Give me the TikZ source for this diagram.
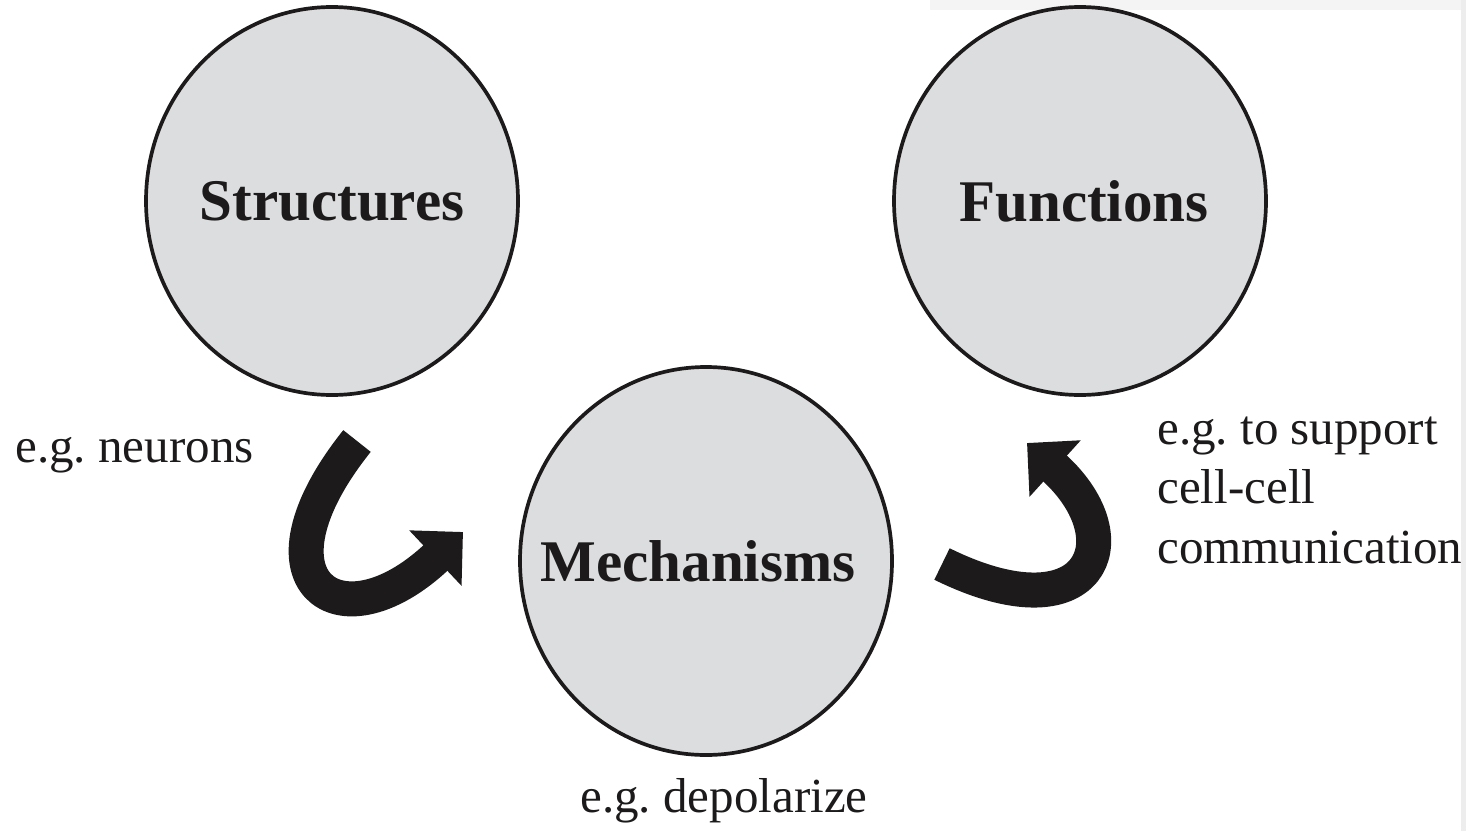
\documentclass[tikz,border=0pt]{standalone}
\usepackage{fontspec}
\setmainfont{Liberation Serif}
\usetikzlibrary{shapes.geometric,arrows.meta}
\definecolor{cellgray}{RGB}{220,221,223}
\definecolor{inkblack}{RGB}{28,26,27}
\tikzset{
	cell/.style={ellipse, draw=inkblack, line width=2.1pt, fill=cellgray,
		minimum width=7.44cm, minimum height=7.76cm, inner sep=0pt},
	title/.style={inner sep=0pt, text=inkblack,
		font=\fontsize{33.6}{40}\selectfont\bfseries},
	note/.style={inner sep=0pt, align=left, text=inkblack,
		font=\fontsize{27.9}{33.6}\selectfont},
	curl/.style={draw=inkblack, line width=7mm,
		-{Triangle[length=7.6mm,width=14.8mm]}}
}
\begin{document}
\begin{tikzpicture}[x=0.2mm, y=-0.2mm, line join=round]
		
		\useasboundingbox (0,0) rectangle (1466,831);
		% scanned page edges
		\fill[gray!9] (930,0) rectangle (1466,10);
		\fill[gray!14] (1461,0) rectangle (1466,831);
		
		\node[cell, label={[title]center:Structures}] (S) at (332,201) {};
		\node[cell, label={[title, xshift=0.8mm]center:Functions}] (F) at (1080,201) {};
		\node[cell, label={[title, xshift=-1.6mm]center:Mechanisms}] (M) at (706,561) {};
		
		\node[note, anchor=base west] (nS) at (15,462) {e.g.\ neurons};
		\node[note, anchor=base west] (nM) at (580,812) {e.g.\ depolarize};
		% base of a multi-line note is its last line
		\node[note, anchor=base west] (nF) at (1157,563) {e.g.\ to support\\cell-cell\\communication};
		
		\coordinate[] (A1) at (357,441);
		\coordinate[] (A2) at (463,532);
		\coordinate[] (B1) at (942,564);
		\coordinate[] (B2) at (1027,443);
		
		\draw[curl] (A1) .. controls +(-112,140) and +(-124,117) .. (A2);
		\draw[curl] (B1) .. controls +(148,73) and +(108,98) .. (B2);
		
\end{tikzpicture}
\end{document}
